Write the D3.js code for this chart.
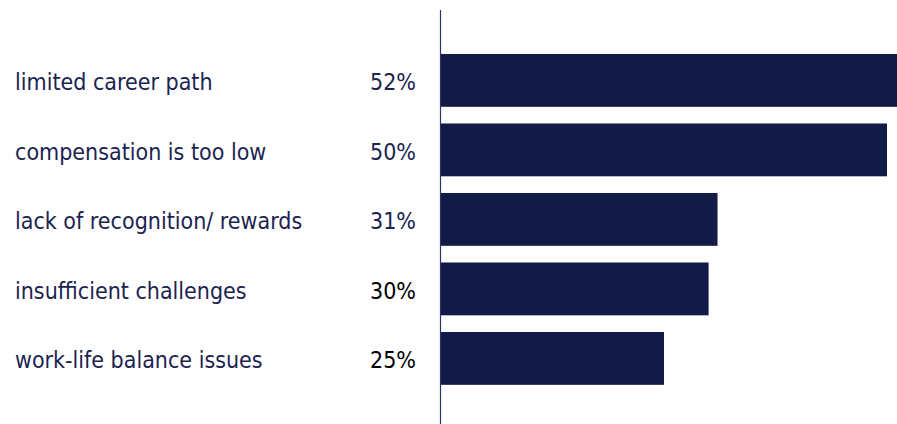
<!DOCTYPE html>
<html>
<head>
<meta charset="utf-8">
<script src="https://cdn.jsdelivr.net/npm/d3@7/dist/d3.min.js"></script>
<style>
  html, body { margin: 0; padding: 0; background: #ffffff; }
  svg { display: block; }
  text { font-family: "DejaVu Sans Condensed", "DejaVu Sans", Verdana, sans-serif; }
</style>
</head>
<body>
<div id="chart"></div>
<script>
// Reasons given for leaving, share of respondents
const categories = [
  "limited career path",
  "compensation is too low",
  "lack of recognition/ rewards",
  "insufficient challenges",
  "work-life balance issues"
];
const values = [0.52, 0.50, 0.31, 0.30, 0.25];
const valueLabels = ["52%", "50%", "31%", "30%", "25%"];
const valueColors = ["#1b2350", "#1b2350", "#1b2350", "#000000", "#000000"];

const width = 897, height = 424;
const barColor = "#121b45";
const axisX = 440;

const svg = d3.select("#chart").append("svg")
  .attr("width", width)
  .attr("height", height);

const x = d3.scaleLinear()
  .domain([0, 0.5])
  .range([axisX + 1, 887]);

const y = d3.scaleBand()
  .domain(categories)
  .range([37.3, 401.5])
  .paddingInner(0.24)
  .paddingOuter(0.24);

const rows = categories.map((c, i) => ({
  cat: c, value: values[i], label: valueLabels[i], color: valueColors[i]
}));

// bars
svg.append("g").selectAll("rect")
  .data(rows)
  .join("rect")
  .attr("x", x(0))
  .attr("y", d => y(d.cat))
  .attr("width", d => x(d.value) - x(0))
  .attr("height", y.bandwidth())
  .attr("fill", barColor);

// vertical baseline
svg.append("line")
  .attr("x1", axisX + 0.5).attr("x2", axisX + 0.5)
  .attr("y1", 10).attr("y2", height)
  .attr("stroke", "#2a3466")
  .attr("stroke-width", 1.2);

// category labels
svg.append("g").selectAll("text")
  .data(rows)
  .join("text")
  .attr("x", 15)
  .attr("y", d => y(d.cat) + y.bandwidth() / 2 + 10)
  .attr("font-size", 23)
  .attr("fill", "#1b2350")
  .text(d => d.cat);

// value labels
svg.append("g").selectAll("text")
  .data(rows)
  .join("text")
  .attr("x", 416)
  .attr("y", d => y(d.cat) + y.bandwidth() / 2 + 10)
  .attr("text-anchor", "end")
  .attr("font-size", 23)
  .attr("fill", d => d.color)
  .text(d => d.label);
</script>
</body>
</html>
